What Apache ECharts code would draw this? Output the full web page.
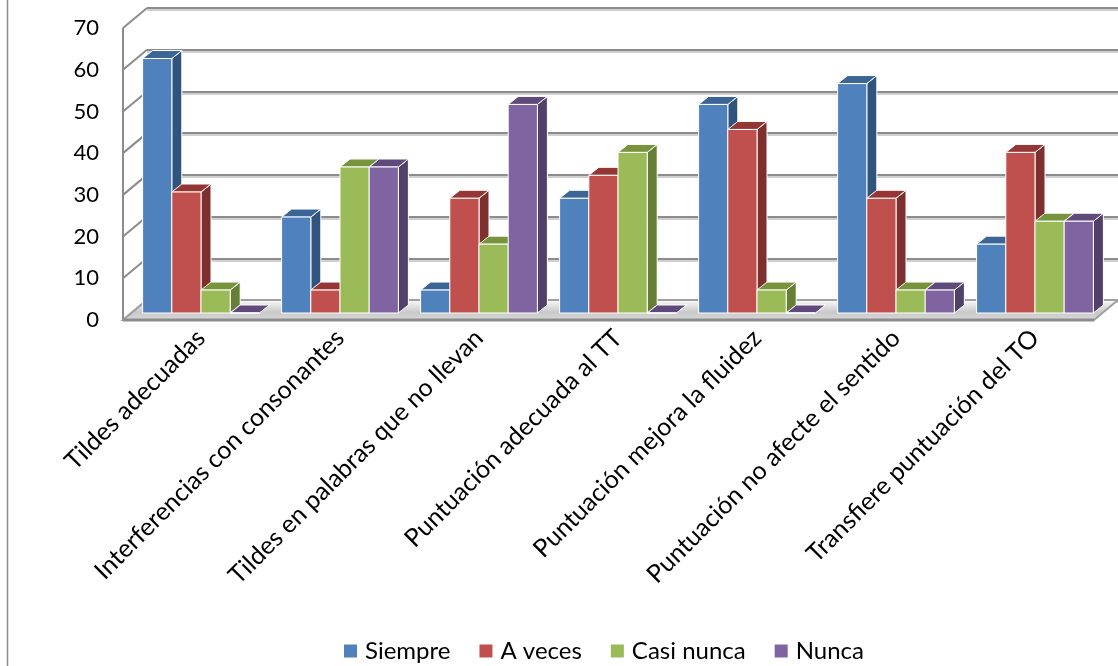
<!DOCTYPE html>
<html>
<head>
<meta charset="utf-8">
<script src="https://cdn.jsdelivr.net/npm/echarts@6/dist/echarts.min.js"></script>
<style>
  html, body { margin: 0; padding: 0; background: #fff; }
  #chart { width: 1118px; height: 666px; }
</style>
</head>
<body>
<div id="chart"></div>
<script>
var categories = ['Tildes adecuadas', 'Interferencias con consonantes', 'Tildes en palabras que no llevan',
    'Puntuación adecuada al TT', 'Puntuación mejora la fluidez', 'Puntuación no afecte el sentido',
    'Transfiere puntuación del TO'];
var siempre = [61, 23, 5.5, 27.5, 50, 55, 16.5];
var aVeces = [29, 5.5, 27.5, 33, 44, 27.5, 38.5];
var casiNunca = [5.5, 35, 16.5, 38.5, 5.5, 5.5, 22];
var nunca = [0, 35, 50, 0, 0, 5.5, 22];
var yTicks = [0, 10, 20, 30, 40, 50, 60, 70];

var names = ['Siempre', 'A veces', 'Casi nunca', 'Nunca'];
var front = ['#4F81BD', '#C0504D', '#9BBB59', '#8064A2'];
var topc = ['#3A6594', '#943734', '#77933C', '#604A7B'];
var side = ['#31547E', '#7E302E', '#667E36', '#514068'];

var font = 'Lato';
var DX = 24, DY = 20;   // depth of the chart box
var bdx = 10, bdy = 8;  // depth of a bar

var chart = echarts.init(document.getElementById('chart'));

function barRender(idx) {
    return function (params, api) {
        var cat = api.value(0), val = api.value(1);
        var base = api.coord([cat, 0]);
        var top = api.coord([cat, val]);
        var w = api.size([1, 0])[0] * 0.21;
        var x0 = base[0] - 2 * w + idx * w, x1 = x0 + w;
        var yb = base[1], yt = top[1];
        return {
            type: 'group',
            children: [
                {type: 'polygon', shape: {points: [[x1, yb], [x1, yt], [x1 + bdx, yt - bdy], [x1 + bdx, yb - bdy]]},
                    style: {fill: side[idx], stroke: '#fff', lineWidth: 1}},
                {type: 'polygon', shape: {points: [[x0, yt], [x1, yt], [x1 + bdx, yt - bdy], [x0 + bdx, yt - bdy]]},
                    style: {fill: topc[idx], stroke: '#fff', lineWidth: 1}},
                {type: 'rect', shape: {x: x0, y: yt, width: w, height: yb - yt},
                    style: {fill: front[idx], stroke: '#fff', lineWidth: 1}}
            ]
        };
    };
}

var series = [];

// left wall lines
series.push({
    type: 'custom',
    xAxisIndex: 2, yAxisIndex: 2,
    silent: true, z: 1,
    data: yTicks.map(function (v) { return [0, v]; }),
    renderItem: function (params, api) {
        var b = api.coord([0, api.value(1)]);
        var children = [{type: 'line', shape: {x1: b[0] - DX, y1: b[1] + DY, x2: b[0], y2: b[1]},
            style: {stroke: '#8c8c8c', lineWidth: 2}}];
        if (api.value(1) === 70) {
            var b0 = api.coord([0, 0]);
            children.push({type: 'line', shape: {x1: b[0] - DX, y1: b[1] + DY, x2: b0[0] - DX, y2: b0[1] + DY},
                style: {stroke: '#8c8c8c', lineWidth: 2}});
        }
        return {type: 'group', children: children};
    }
});

// floor
series.push({
    type: 'custom',
    xAxisIndex: 2, yAxisIndex: 2,
    silent: true, z: 2,
    data: [[0, 0]],
    renderItem: function (params, api) {
        var bl = api.coord([0, 0]), br = api.coord([1, 0]);
        return {
            type: 'group',
            children: [
                {type: 'polygon', shape: {points: [[bl[0] - DX, bl[1] + DY], bl, br, [br[0] - DX, br[1] + DY]]},
                    style: {fill: new echarts.graphic.LinearGradient(0, 0, 0, 1, [
                        {offset: 0, color: '#ffffff'}, {offset: 0.6, color: '#c9c9c9'}, {offset: 1, color: '#d9d9d9'}]),
                        stroke: '#a0a0a0', lineWidth: 2}},
                {type: 'line', shape: {x1: bl[0] - DX, y1: bl[1] + DY, x2: br[0] - DX, y2: br[1] + DY},
                    style: {stroke: '#8c8c8c', lineWidth: 3}}
            ]
        };
    }
});

var dataSets = [siempre, aVeces, casiNunca, nunca];
for (var i = 0; i < 4; i++) {
    series.push({
        type: 'custom',
        name: names[i],
        xAxisIndex: 0, yAxisIndex: 0,
        z: 3,
        itemStyle: {color: front[i]},
        data: dataSets[i].map(function (v, k) { return [k, v]; }),
        encode: {x: 0, y: 1},
        renderItem: barRender(i)
    });
}

var option = {
    backgroundColor: '#fff',
    animation: false,
    grid: [
        {left: 131.5, top: 21, width: 973, height: 292},
        {left: 123, top: 28, width: 973, height: 292},
        {left: 147, top: 8, right: 0, height: 292}
    ],
    xAxis: [
        {type: 'category', gridIndex: 0, data: categories,
            axisLine: {show: false}, axisTick: {show: false},
            axisLabel: {rotate: 45, interval: 0, fontSize: 25, fontFamily: font, color: '#000', margin: 21}},
        {type: 'value', gridIndex: 1, min: 0, max: 1, show: false},
        {type: 'value', gridIndex: 2, min: 0, max: 1, show: false}
    ],
    yAxis: [
        {type: 'value', gridIndex: 0, min: 0, max: 70, interval: 10, show: false},
        {type: 'value', gridIndex: 1, min: 0, max: 70, interval: 10,
            axisLine: {show: false}, axisTick: {show: false}, splitLine: {show: false},
            axisLabel: {fontSize: 22, fontFamily: font, color: '#000', margin: 24}},
        {type: 'value', gridIndex: 2, min: 0, max: 70, interval: 10,
            axisLine: {show: false}, axisTick: {show: false}, axisLabel: {show: false},
            splitLine: {show: true, lineStyle: {color: '#8c8c8c', width: 2, shadowColor: '#d0d0d0', shadowOffsetY: 2}}}
    ],
    legend: {
        data: names,
        left: 339, top: 634,
        icon: 'rect', itemWidth: 13, itemHeight: 13, itemGap: 29,
        textStyle: {fontSize: 24, fontFamily: font, color: '#000', padding: [0, 0, 0, 3]}
    },
    graphic: [
        {type: 'line', shape: {x1: 7.5, y1: 0, x2: 7.5, y2: 666}, style: {stroke: '#8c8c8c', lineWidth: 1.5}}
    ],
    series: series
};

chart.setOption(option);
</script>
</body>
</html>
